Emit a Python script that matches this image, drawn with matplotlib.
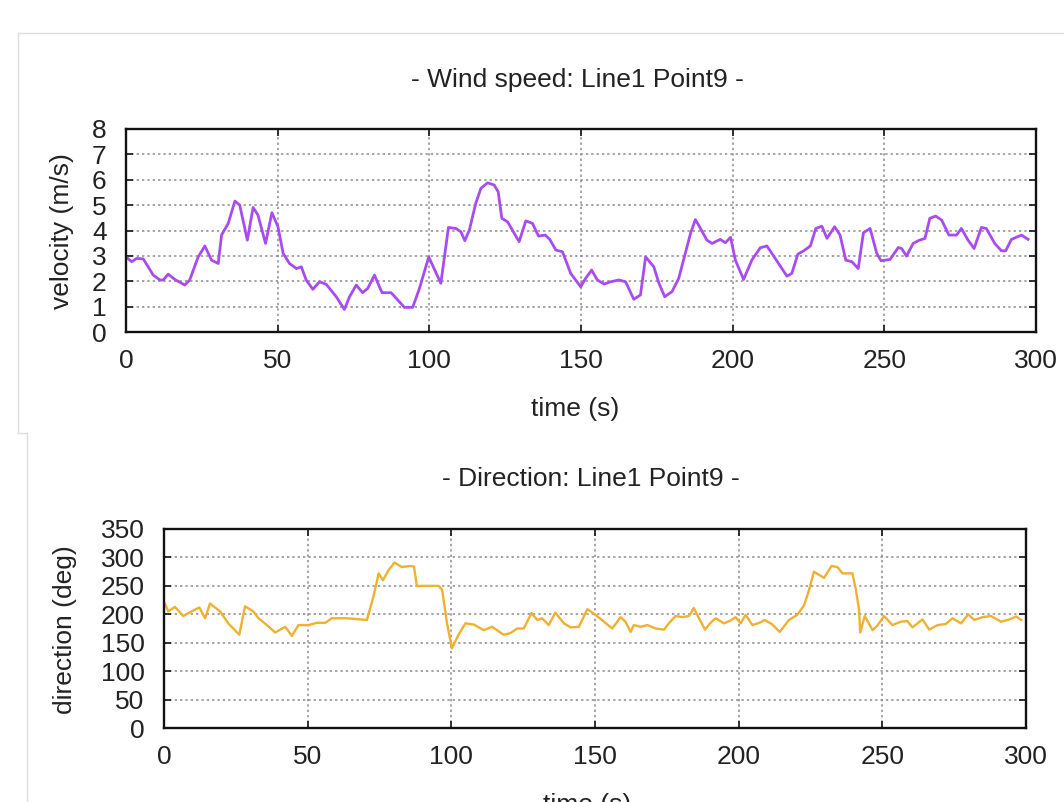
import matplotlib
matplotlib.use("Agg")
import matplotlib.pyplot as plt
from matplotlib.lines import Line2D

plt.rcParams['font.family'] = ['Liberation Sans', 'DejaVu Sans']

# wind speed (m/s)
speed_t = [0, 1.9, 3.5, 5.7, 9, 11.2, 12.3, 13.9, 16.1, 19.4, 21, 23.8, 26, 28.2, 30.4, 31.5,
           33.7, 35.9, 37.5, 40, 41.9, 43.5, 46, 48.1, 50.1, 51.8, 53.9, 56.2, 57.8, 59.4, 61.6,
           63.8, 66, 69.3, 72, 73.7, 75.9, 78, 79.7, 81.9, 84.4, 87.4, 91.8, 94.5, 96.7, 99.8,
           103.8, 106.3, 108.8, 110.4, 111.7, 113.2, 115.3, 117, 119.2, 121.4, 122.7, 123.9,
           125.8, 129.6, 131.8, 134, 136, 138.2, 139.7, 141.7, 143.9, 146.6, 149.9, 151.5, 153.5,
           155.4, 157.6, 159.8, 162.5, 164.7, 167.4, 169.6, 171.3, 174, 175.7, 177.6, 180, 182.2,
           184.4, 186.1, 187.7, 189.4, 191.5, 193.2, 195.9, 197.6, 199.3, 200.9, 203.6, 206.3,
           209.1, 211.3, 214, 217.9, 219.5, 221.5, 223.4, 225.6, 227.4, 229.4, 231.1, 233.6,
           235.4, 237.3, 239.3, 241.4, 243.1, 245.3, 247.5, 248.9, 251.9, 254.6, 255.7, 257.3,
           259.5, 261.2, 263.4, 265, 266.9, 268.9, 271.3, 273.8, 275.4, 277.6, 279.6, 282, 283.6,
           286.4, 288.6, 290, 291.9, 295.2, 297.4]
speed_v = [2.96, 2.77, 2.9, 2.88, 2.24, 2.05, 2.05, 2.28, 2.07, 1.85, 2.05, 2.96, 3.39, 2.83, 2.7,
           3.82, 4.28, 5.16, 5.0, 3.62, 4.91, 4.61, 3.49, 4.7, 4.15, 3.1, 2.7, 2.5, 2.57, 2.05,
           1.68, 1.98, 1.88, 1.39, 0.89, 1.39, 1.85, 1.55, 1.72, 2.24, 1.55, 1.55, 0.97, 0.97,
           1.7, 2.96, 1.92, 4.12, 4.08, 3.95, 3.6, 4.02, 5.07, 5.66, 5.88, 5.79, 5.52, 4.48, 4.34,
           3.56, 4.38, 4.28, 3.78, 3.82, 3.65, 3.23, 3.16, 2.31, 1.78, 2.11, 2.44, 2.05, 1.89,
           1.98, 2.05, 1.98, 1.29, 1.46, 2.96, 2.57, 1.92, 1.39, 1.59, 2.11, 3.1, 3.88, 4.43,
           4.08, 3.62, 3.49, 3.65, 3.52, 3.73, 2.83, 2.07, 2.83, 3.32, 3.39, 2.9, 2.2, 2.31, 3.07,
           3.2, 3.39, 4.08, 4.17, 3.69, 4.15, 3.82, 2.83, 2.77, 2.5, 3.91, 4.08, 3.1, 2.81, 2.86,
           3.33, 3.29, 2.99, 3.49, 3.6, 3.69, 4.48, 4.57, 4.41, 3.82, 3.82, 4.08, 3.62, 3.29,
           4.12, 4.08, 3.49, 3.2, 3.2, 3.65, 3.82, 3.65]

# wind direction (deg)
dir_t = [0.3, 1.5, 3.8, 6.7, 9.6, 12.3, 14.3, 16, 19.5, 22.4, 26.2, 28.2, 31.1, 32.9, 35.8, 38.7,
         42.2, 44.5, 46.8, 50.3, 53.2, 56.1, 58.4, 63.7, 68.3, 70.6, 72.9, 74.7, 76.2, 78.2, 80.2,
         82.8, 85.7, 87, 88, 91.5, 95.6, 96.8, 98.5, 100.2, 102.5, 104.9, 107.8, 111.3, 114.2,
         118.2, 120.6, 122.9, 125.2, 127.9, 129.9, 131.6, 133.9, 136.2, 139.2, 141.5, 144.4,
         147.3, 150.2, 153.1, 156, 158.9, 160.6, 162.4, 163.5, 165.9, 168.2, 171.1, 174, 175.7,
         178, 180.4, 182.7, 184.4, 186.2, 188.3, 190.2, 192, 194.9, 197.2, 198.9, 200.7, 202.4,
         204.8, 207.7, 209, 211.5, 214.3, 217.5, 220.4, 222.8, 224.5, 226.2, 229.7, 232.3, 234.4,
         236.1, 239.6, 240.8, 241.9, 242.3, 243.9, 246.6, 248.4, 250.6, 253.5, 256.4, 258.7,
         260.5, 264, 266.3, 269.2, 272.1, 274.4, 277.4, 279.9, 282, 284.9, 287.8, 291.3, 294.2,
         296.6, 298.3]
dir_v = [219, 205, 213, 197, 205, 212, 193, 219, 205, 184, 164, 214, 205, 193, 181, 168, 178,
         162, 181, 181, 185, 185, 193, 193, 191, 190, 231, 272, 260, 278, 291, 283, 285, 284,
         250, 250, 250, 243, 184, 140, 164, 184, 182, 172, 178, 164, 167, 175, 175, 202, 190,
         193, 181, 203, 184, 177, 178, 209, 199, 187, 175, 195, 187, 169, 181, 178, 181, 175,
         173, 184, 197, 195, 197, 211, 193, 173, 185, 193, 184, 189, 195, 184, 199, 181, 186,
         190, 183, 169, 190, 199, 216, 243, 275, 264, 285, 283, 272, 272, 243, 208, 168, 197,
         172, 181, 197, 181, 187, 188, 177, 191, 173, 181, 183, 193, 184, 200, 190, 195, 197,
         187, 191, 196, 190]

W, H = 1064, 802
fig = plt.figure(figsize=(W / 100, H / 100), dpi=100)

def px(x, y):
    return x / W, 1 - y / H

# faint screenshot frames
frame = '#dedede'
for xs, ys in [([18, 1064], [33, 33]), ([18, 18], [33, 433]), ([18, 27], [433, 433]), ([27, 27], [433, 802])]:
    fig.add_artist(Line2D([x / W for x in xs], [1 - y / H for y in ys], color=frame, lw=1))

FS = 19

def style(ax, ymax, ystep):
    ax.set_xlim(0, 300)
    ax.set_ylim(0, ymax)
    ax.set_xticks(range(0, 301, 50))
    ax.set_yticks(range(0, ymax + 1, ystep))
    ax.grid(True, color='#8a8a8a', linestyle=(0, (1.5, 2.0)), lw=1.1)
    ax.tick_params(direction='in', top=True, right=True, length=5, width=1.3,
                   labelsize=FS, colors='#222222')
    ax.tick_params(axis='y', pad=14)
    ax.tick_params(axis='x', pad=12)
    for s in ax.spines.values():
        s.set_linewidth(1.7)
        s.set_color('#111111')

ax1 = fig.add_axes([126 / W, 1 - 332 / H, 910 / W, 203 / H])
ax1.plot(speed_t, speed_v, color='#a84cf2', lw=2.0, solid_joinstyle='round')
style(ax1, 8, 1)

ax2 = fig.add_axes([164 / W, 1 - 728 / H, 862 / W, 199 / H])
ax2.plot(dir_t, dir_v, color='#f0b030', lw=1.7, solid_joinstyle='round')
style(ax2, 350, 50)

tc = '#222222'
fig.text(*px(577, 80), "- Wind speed: Line1 Point9 -", ha='center', va='center', fontsize=FS, color=tc)
fig.text(*px(575, 409), "time (s)", ha='center', va='center', fontsize=FS, color=tc)
fig.text(*px(62, 231), "velocity (m/s)", ha='center', va='center', rotation=90, fontsize=FS, color=tc)

fig.text(*px(591, 479), "- Direction: Line1 Point9 -", ha='center', va='center', fontsize=FS, color=tc)
fig.text(*px(587, 793), "time (s)", ha='center', va='top', fontsize=FS, color=tc)
fig.text(*px(65, 630), "direction (deg)", ha='center', va='center', rotation=90, fontsize=FS, color=tc)

fig.savefig("out.png", dpi=100)
